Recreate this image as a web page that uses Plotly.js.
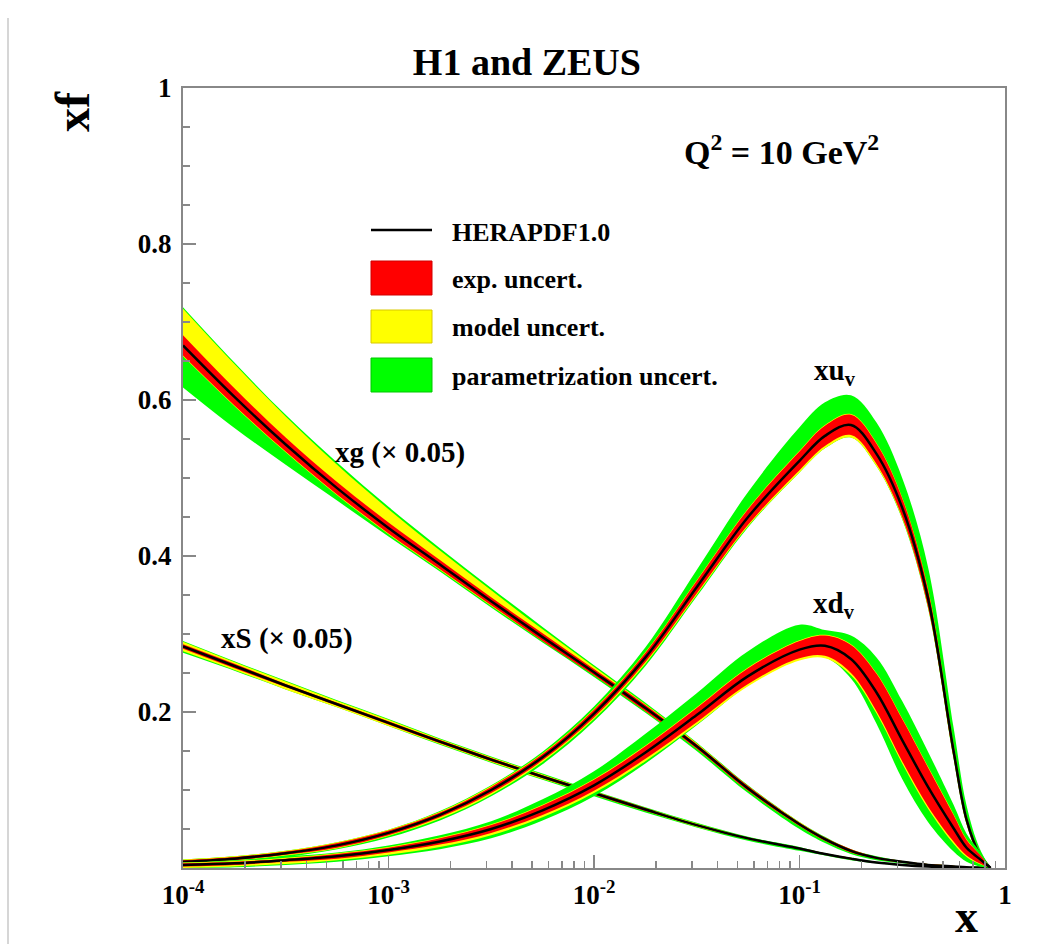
<!DOCTYPE html>
<html>
<head>
<meta charset="utf-8">
<script src="https://cdn.plot.ly/plotly-3.0.1.min.js"></script>
<style>html,body{margin:0;padding:0;background:#fff;}#chart{width:1058px;height:944px;}</style>
</head>
<body>
<div id="chart"></div>
<script>
// x grid (momentum fraction)
const xs = [0.0001, 0.000178, 0.000316, 0.000562, 0.001, 0.00178, 0.00316, 0.00562, 0.01, 0.0178, 0.0316, 0.0562, 0.1, 0.133, 0.178, 0.237, 0.316, 0.422, 0.562, 0.65, 0.75, 0.85];

// xg (x 0.05)
const xgCentral = [0.670, 0.604, 0.543, 0.487, 0.436, 0.389, 0.342, 0.296, 0.251, 0.205, 0.156, 0.102, 0.056, 0.037, 0.022, 0.013, 0.008, 0.004, 0.002, 0.001, 0.0005, 0];
const xgExp     = [0.013, 0.011, 0.009, 0.008, 0.007, 0.006, 0.005, 0.005, 0.004, 0.004, 0.003, 0.003, 0.002, 0.002, 0.002, 0.001, 0.001, 0.001, 0.001, 0, 0, 0];
const xgModUp   = [0.047, 0.042, 0.036, 0.030, 0.024, 0.018, 0.014, 0.010, 0.007, 0.005, 0.004, 0.003, 0.003, 0.002, 0.002, 0.001, 0.001, 0.001, 0.001, 0, 0, 0];
const xgModDn   = [0.014, 0.012, 0.010, 0.009, 0.008, 0.007, 0.006, 0.005, 0.004, 0.004, 0.003, 0.003, 0.002, 0.002, 0.002, 0.001, 0.001, 0.001, 0.001, 0, 0, 0];
const xgTotUp   = [0.049, 0.044, 0.038, 0.033, 0.027, 0.021, 0.017, 0.013, 0.009, 0.007, 0.005, 0.004, 0.003, 0.003, 0.002, 0.002, 0.001, 0.001, 0.001, 0, 0, 0];
const xgTotDn   = [0.054, 0.040, 0.026, 0.016, 0.011, 0.009, 0.008, 0.007, 0.006, 0.006, 0.006, 0.006, 0.006, 0.005, 0.004, 0.003, 0.002, 0.001, 0.001, 0, 0, 0];

// xS (x 0.05)
const xsCentral = [0.284, 0.259, 0.234, 0.210, 0.186, 0.162, 0.139, 0.117, 0.096, 0.075, 0.055, 0.038, 0.025, 0.018, 0.012, 0.007, 0.004, 0.002, 0.001, 0, 0, 0];
const xsExp     = [0.003, 0.003, 0.002, 0.002, 0.002, 0.002, 0.002, 0.002, 0.002, 0.002, 0.001, 0.001, 0.001, 0.001, 0.001, 0, 0, 0, 0, 0, 0, 0];
const xsModUp   = [0.006, 0.005, 0.005, 0.004, 0.004, 0.003, 0.003, 0.003, 0.002, 0.002, 0.002, 0.001, 0.001, 0.001, 0.001, 0, 0, 0, 0, 0, 0, 0];
const xsModDn   = [0.006, 0.005, 0.005, 0.004, 0.004, 0.003, 0.003, 0.003, 0.002, 0.002, 0.002, 0.001, 0.001, 0.001, 0.001, 0, 0, 0, 0, 0, 0, 0];
const xsTotUp   = [0.007, 0.006, 0.006, 0.005, 0.005, 0.004, 0.004, 0.004, 0.003, 0.003, 0.003, 0.002, 0.002, 0.001, 0.001, 0.001, 0, 0, 0, 0, 0, 0];
const xsTotDn   = [0.008, 0.006, 0.005, 0.004, 0.004, 0.004, 0.004, 0.004, 0.004, 0.004, 0.003, 0.003, 0.003, 0.002, 0.002, 0.001, 0.001, 0, 0, 0, 0, 0];

// xu_v
const xuCentral = [0.008, 0.012, 0.019, 0.029, 0.045, 0.068, 0.100, 0.142, 0.198, 0.270, 0.360, 0.450, 0.522, 0.554, 0.568, 0.531, 0.462, 0.346, 0.150, 0.062, 0.018, 0];
const xuExp     = [0.002, 0.002, 0.002, 0.003, 0.003, 0.003, 0.004, 0.004, 0.005, 0.006, 0.008, 0.010, 0.012, 0.013, 0.013, 0.013, 0.012, 0.011, 0.008, 0.005, 0.003, 0];
const xuModUp   = [0.003, 0.003, 0.003, 0.004, 0.004, 0.004, 0.005, 0.005, 0.006, 0.007, 0.009, 0.011, 0.013, 0.014, 0.014, 0.014, 0.013, 0.012, 0.009, 0.005, 0.003, 0];
const xuModDn   = [0.003, 0.003, 0.003, 0.004, 0.004, 0.005, 0.006, 0.006, 0.007, 0.008, 0.010, 0.012, 0.015, 0.016, 0.016, 0.016, 0.014, 0.012, 0.009, 0.006, 0.003, 0];
const xuTotUp   = [0.003, 0.003, 0.003, 0.004, 0.004, 0.005, 0.006, 0.007, 0.009, 0.013, 0.022, 0.032, 0.043, 0.043, 0.038, 0.040, 0.038, 0.040, 0.030, 0.018, 0.008, 0];
const xuTotDn   = [0.004, 0.004, 0.005, 0.005, 0.006, 0.007, 0.008, 0.009, 0.010, 0.011, 0.012, 0.013, 0.015, 0.016, 0.016, 0.016, 0.015, 0.013, 0.010, 0.006, 0.003, 0];

// xd_v
const xdCentral = [0.004, 0.006, 0.010, 0.015, 0.023, 0.034, 0.050, 0.074, 0.106, 0.148, 0.196, 0.246, 0.280, 0.285, 0.268, 0.225, 0.164, 0.104, 0.051, 0.026, 0.012, 0];
const xdExp     = [0.002, 0.002, 0.002, 0.003, 0.003, 0.004, 0.005, 0.006, 0.007, 0.008, 0.009, 0.010, 0.011, 0.013, 0.018, 0.024, 0.027, 0.025, 0.017, 0.010, 0.006, 0];
const xdModUp   = [0.003, 0.003, 0.003, 0.004, 0.004, 0.005, 0.006, 0.007, 0.008, 0.009, 0.010, 0.011, 0.012, 0.014, 0.019, 0.025, 0.028, 0.026, 0.018, 0.011, 0.006, 0];
const xdModDn   = [0.004, 0.004, 0.005, 0.005, 0.006, 0.007, 0.008, 0.009, 0.010, 0.011, 0.012, 0.013, 0.014, 0.016, 0.021, 0.027, 0.030, 0.028, 0.020, 0.012, 0.007, 0];
const xdTotUp   = [0.003, 0.004, 0.005, 0.005, 0.006, 0.008, 0.010, 0.014, 0.018, 0.024, 0.028, 0.032, 0.032, 0.020, 0.030, 0.045, 0.050, 0.045, 0.030, 0.018, 0.010, 0];
const xdTotDn   = [0.004, 0.005, 0.006, 0.007, 0.008, 0.010, 0.012, 0.013, 0.014, 0.014, 0.013, 0.012, 0.013, 0.015, 0.025, 0.040, 0.050, 0.045, 0.030, 0.018, 0.010, 0];

// tick labels
const xTickVals = [0.0001, 0.001, 0.01, 0.1, 1];
const xTickText = ['<b>10<sup>-4</sup></b>', '<b>10<sup>-3</sup></b>', '<b>10<sup>-2</sup></b>', '<b>10<sup>-1</sup></b>', '<b>1</b>'];
const yTickVals = [0.2, 0.4, 0.6, 0.8, 1];
const yTickText = ['<b>0.2</b>', '<b>0.4</b>', '<b>0.6</b>', '<b>0.8</b>', '<b>1</b>'];

const GREEN = '#00ff00', YELLOW = '#ffff00', RED = '#ff0000';
const SERIF = 'Liberation Serif, Times New Roman, serif';

const traces = [];
function band(c, up, dn, color) {
  const lo = c.map((v, i) => Math.max(0, v - dn[i]));
  const hi = c.map((v, i) => v + up[i]);
  traces.push({x: xs, y: lo, mode: 'lines', line: {width: 0, shape: 'spline', color: color}, hoverinfo: 'skip', showlegend: false});
  traces.push({x: xs, y: hi, mode: 'lines', line: {width: 0, shape: 'spline', color: color}, fill: 'tonexty', fillcolor: color, hoverinfo: 'skip', showlegend: false});
}
function curve(c, e, mU, mD, tU, tD) {
  band(c, tU, tD, GREEN);
  band(c, mU, mD, YELLOW);
  band(c, e, e, RED);
  traces.push({x: xs, y: c, mode: 'lines', line: {width: 2.5, shape: 'spline', color: '#000'}, showlegend: false});
}
curve(xgCentral, xgExp, xgModUp, xgModDn, xgTotUp, xgTotDn);
curve(xsCentral, xsExp, xsModUp, xsModDn, xsTotUp, xsTotDn);
curve(xuCentral, xuExp, xuModUp, xuModDn, xuTotUp, xuTotDn);
curve(xdCentral, xdExp, xdModUp, xdModDn, xdTotUp, xdTotDn);

const minorX = [];
for (let d = -4; d < 0; d++) for (let k = 2; k <= 9; k++) minorX.push(k * Math.pow(10, d));

const L = 183, R = 1005, T = 88, B = 868;
const px = v => (v - L) / (R - L);
const py = v => (B - v) / (B - T);

function ann(text, x, y, size, extra) {
  return Object.assign({text: text, xref: 'paper', yref: 'paper', x: px(x), y: py(y), showarrow: false,
    xanchor: 'center', yanchor: 'middle', font: {family: SERIF, size: size, color: '#000', weight: 'bold'}}, extra || {});
}

const annotations = [
  ann('<b>xf</b>', 72, 112, 48, {textangle: -90}),
  ann('<b>x</b>', 966, 916, 46),
  ann('<b>Q<sup>2</sup> = 10 GeV<sup>2</sup></b>', 781, 150, 34),
  ann('<b>xg (× 0.05)</b>', 400, 452, 29),
  ann('<b>xS (× 0.05)</b>', 287, 638, 29),
  ann('<b>xu<sub>v</sub></b>', 835, 372, 29),
  ann('<b>xd<sub>v</sub></b>', 834, 605, 29),
  ann('<b>HERAPDF1.0</b>', 450, 232, 26, {xanchor: 'left'}),
  ann('<b>exp. uncert.</b>', 450, 279, 26, {xanchor: 'left'}),
  ann('<b>model uncert.</b>', 450, 327, 26, {xanchor: 'left'}),
  ann('<b>parametrization uncert.</b>', 450, 376, 26, {xanchor: 'left'})
];

function box(y0, y1, fill, border) {
  return {type: 'rect', xref: 'paper', yref: 'paper', x0: px(371), x1: px(432), y0: py(y1), y1: py(y0),
    fillcolor: fill, line: {color: border, width: 1}};
}
const shapes = [
  {type: 'line', xref: 'paper', yref: 'paper', x0: px(371), x1: px(432), y0: py(230), y1: py(230), line: {color: '#000', width: 2.5}},
  box(261, 295, RED, '#d00000'),
  box(310, 343, YELLOW, '#d8c800'),
  box(358, 392, GREEN, '#00c800'),
  {type: 'line', xref: 'paper', yref: 'paper', x0: px(8), x1: px(8), y0: py(18), y1: py(944), line: {color: '#c8c8c8', width: 1.5}}
];

const layout = {
  width: 1058, height: 944,
  margin: {l: L, r: 1058 - R, t: T, b: 944 - B},
  paper_bgcolor: '#fff', plot_bgcolor: '#fff',
  showlegend: false,
  title: {text: '<b>H1 and ZEUS</b>', x: 0.498, xref: 'container', y: 1 - 62 / 944, yref: 'container', yanchor: 'middle', xanchor: 'center',
    font: {family: SERIF, size: 38, color: '#000', weight: 'bold'}},
  xaxis: {type: 'log', range: [-4, 0], tickmode: 'array', tickvals: xTickVals, ticktext: xTickText,
    ticks: 'inside', ticklen: 13, tickwidth: 1.5, tickcolor: '#888', showline: true, linecolor: '#888', linewidth: 2,
    mirror: true, showgrid: false, zeroline: false, ticklabelstandoff: 2,
    tickfont: {family: SERIF, size: 27, color: '#000', weight: 'bold'},
    minor: {tickmode: 'array', tickvals: minorX, ticks: 'inside', ticklen: 7, tickwidth: 1.5, tickcolor: '#888', showgrid: false}},
  yaxis: {range: [0, 1], tickmode: 'array', tickvals: yTickVals, ticktext: yTickText,
    ticks: 'inside', ticklen: 13, tickwidth: 1.5, tickcolor: '#888', showline: true, linecolor: '#888', linewidth: 2,
    mirror: true, showgrid: false, zeroline: false, ticklabelstandoff: 4,
    tickfont: {family: SERIF, size: 27, color: '#000', weight: 'bold'},
    minor: {tickmode: 'linear', tick0: 0, dtick: 0.05, ticks: 'inside', ticklen: 7, tickwidth: 1.5, tickcolor: '#888', showgrid: false}},
  annotations: annotations,
  shapes: shapes
};

Plotly.newPlot('chart', traces, layout, {displayModeBar: false, staticPlot: true});
</script>
</body>
</html>
